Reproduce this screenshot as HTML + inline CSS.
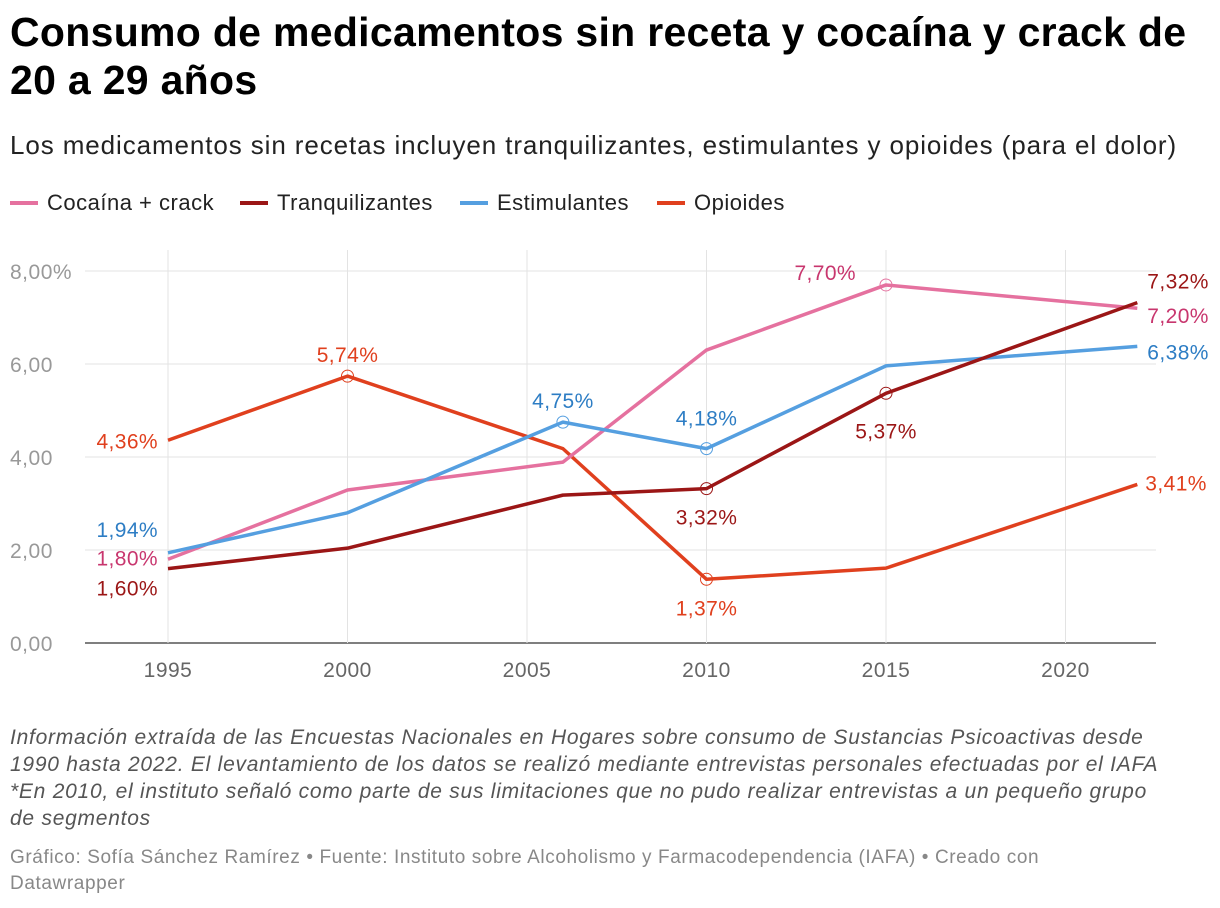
<!DOCTYPE html>
<html><head><meta charset="utf-8">
<style>
body{margin:0;width:1220px;height:908px;background:#fff;font-family:"Liberation Sans",sans-serif;overflow:hidden}
h1{position:absolute;left:10px;top:8px;margin:0;font-size:41px;line-height:48px;font-weight:bold;color:#000;width:1180px;letter-spacing:0.3px}
.sub{position:absolute;left:10px;top:130px;font-size:26px;letter-spacing:0.9px;color:#222;white-space:nowrap}
.legend{position:absolute;left:0;top:190px;font-size:22px;color:#222;width:1220px;height:30px}
.legend span{position:absolute;display:flex;align-items:center;white-space:nowrap;letter-spacing:0.5px}
.legend i{display:inline-block;width:28px;height:4px;margin-right:9px}
.note{position:absolute;left:10px;top:724px;font-size:21px;letter-spacing:0.75px;line-height:27px;font-style:italic;color:#555;width:1185px}
.foot{position:absolute;left:10px;top:845px;font-size:19px;letter-spacing:0.6px;line-height:26px;color:#888;width:1130px}
</style></head><body>
<h1>Consumo de medicamentos sin receta y cocaína y crack de 20 a 29 años</h1>
<div class="sub">Los medicamentos sin recetas incluyen tranquilizantes, estimulantes y opioides (para el dolor)</div>
<div class="legend">
<span style="left:10px"><i style="background:#e5719f"></i>Cocaína + crack</span>
<span style="left:240px"><i style="background:#9b1616"></i>Tranquilizantes</span>
<span style="left:460px"><i style="background:#559fe0"></i>Estimulantes</span>
<span style="left:657px"><i style="background:#e0401e"></i>Opioides</span>
</div>
<svg id="chart" width="1220" height="908" style="position:absolute;left:0;top:0"></svg>
<div class="note">Información extraída de las Encuestas Nacionales en Hogares sobre consumo de Sustancias Psicoactivas desde<br>1990 hasta 2022. El levantamiento de los datos se realizó mediante entrevistas personales efectuadas por el IAFA<br>*En 2010, el instituto señaló como parte de sus limitaciones que no pudo realizar entrevistas a un pequeño grupo<br>de segmentos</div>
<div class="foot">Gráfico: Sofía Sánchez Ramírez • Fuente: Instituto sobre Alcoholismo y Farmacodependencia (IAFA) • Creado con Datawrapper</div>
<script>
const years=[1995,2000,2006,2010,2015,2022];
const cocaina=[1.80,3.29,3.89,6.30,7.70,7.20];
const tranq=[1.60,2.04,3.18,3.32,5.37,7.32];
const estim=[1.94,2.80,4.75,4.18,5.96,6.38];
const opioides=[4.36,5.74,4.18,1.37,1.61,3.41];
const yTicks=[0,2,4,6,8];
const yTickLabels=["0,00","2,00","4,00","6,00","8,00%"];
const xTicks=[1995,2000,2005,2010,2015,2020];
const NS="http://www.w3.org/2000/svg";
const svg=document.getElementById('chart');
const X=y=>168+(y-1995)*35.9;
const Y=v=>643-v*46.5;
function el(t,a,p){const e=document.createElementNS(NS,t);for(const k in a)e.setAttribute(k,a[k]);(p||svg).appendChild(e);return e;}
yTicks.forEach((t,i)=>{
 const l=el('line',{x1:85,x2:1156,y1:Y(t),y2:Y(t),stroke:t===0?'#333':'#e3e3e3','stroke-width':t===0?1.2:1});
 
 
 const tx=el('text',{x:10,y:Y(t)+8,'font-size':21,fill:'#999','letter-spacing':0.5});tx.textContent=yTickLabels[i];
 
 
});
xTicks.forEach(t=>{
 const l=el('line',{x1:X(t),x2:X(t),y1:250,y2:643,stroke:'#e3e3e3'});
 
 
 const tx=el('text',{x:X(t),y:677,'font-size':21,fill:'#666','text-anchor':'middle','letter-spacing':0.5});tx.textContent=t;
 
 
});
const fmt=v=>v.toFixed(2).replace('.',',')+'%';
const series=[
 {name:'opioides',d:opioides,c:'#e0401e',lc:'#e0401e',circ:[1,3],lab:[[0,-10,+8,'end'],[1,0,-14,'middle'],[3,0,36,'middle'],[5,8,6,'start']]},
 {name:'cocaina',d:cocaina,c:'#e5719f',lc:'#c8366e',circ:[4],lab:[[0,-10,+6,'end'],[4,-30,-5,'end'],[5,10,15,'start']]},
 {name:'estimulantes',d:estim,c:'#559fe0',lc:'#2d7dc4',circ:[2,3],lab:[[0,-10,-16,'end'],[2,0,-14,'middle'],[3,0,-23,'middle'],[5,10,13,'start']]},
 {name:'tranquilizantes',d:tranq,c:'#9b1616',lc:'#9b1616',circ:[3,4],lab:[[0,-10,27,'end'],[3,0,36,'middle'],[4,0,45,'middle'],[5,10,-14,'start']]}
];
series.forEach(s=>{
 const p=el('polyline',{points:s.d.map((v,i)=>X(years[i])+','+Y(v)).join(' '),fill:'none',stroke:s.c,'stroke-width':3.5,'stroke-linejoin':'round'});
 
 
 s.circ.forEach(i=>{
  const c=el('circle',{cx:X(years[i]),cy:Y(s.d[i]),r:6,fill:'none',stroke:s.c,'stroke-width':1});
  
  
 });
 s.lab.forEach(([i,dx,dy,a])=>{
  const t=el('text',{x:X(years[i])+dx,y:Y(s.d[i])+dy,'font-size':21,fill:s.lc,'text-anchor':a,'letter-spacing':0.4});
  t.textContent=fmt(s.d[i]);
  
  
 });
});
</script>
</body></html>
